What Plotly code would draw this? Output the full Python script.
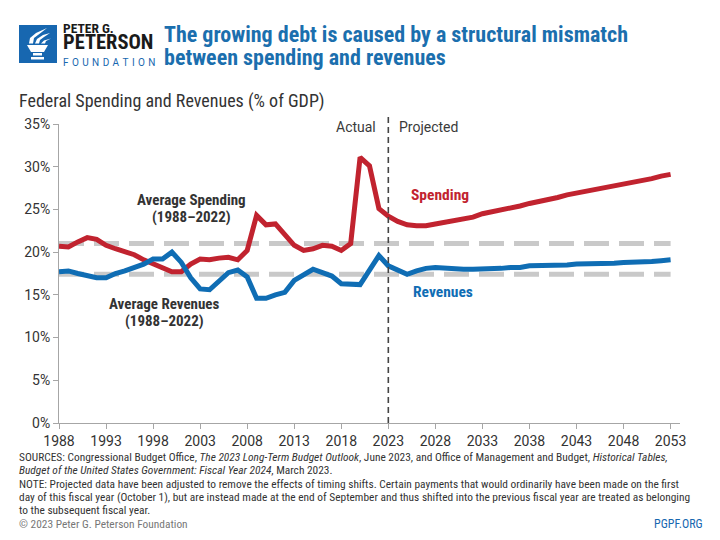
import plotly.graph_objects as go

# ---------------- data ----------------
years = list(range(1988, 2054))
spending = [20.7, 20.6, 21.2, 21.7, 21.5, 20.8, 20.4, 20.1, 19.7, 19.1,
            18.6, 18.1, 17.7, 17.7, 18.6, 19.2, 19.1, 19.3, 19.4, 19.1,
            20.2, 24.3, 23.2, 23.3, 22.0, 20.8, 20.2, 20.4, 20.8, 20.7,
            20.2, 21.0, 31.1, 30.1, 25.1,
            24.2, 23.6, 23.2, 23.1, 23.1, 23.3, 23.5, 23.7, 23.9, 24.1,
            24.5, 24.7, 24.9, 25.2, 25.4, 25.7, 25.9, 26.2, 26.4, 26.7,
            26.9, 27.1, 27.3, 27.5, 27.7, 28.0, 28.2, 28.4, 28.6, 28.9, 29.1]
revenues = [17.7, 17.8, 17.5, 17.3, 17.0, 17.0, 17.5, 17.8, 18.2, 18.6,
            19.2, 19.2, 20.0, 18.8, 17.0, 15.7, 15.6, 16.7, 17.6, 17.9,
            17.1, 14.6, 14.6, 15.0, 15.3, 16.7, 17.4, 18.0, 17.6, 17.2,
            16.3, 16.3, 16.2, 17.9, 19.6,
            18.4, 17.9, 17.4, 17.8, 18.1, 18.2, 18.1, 18.1, 18.0, 18.0,
            18.0, 18.1, 18.1, 18.2, 18.2, 18.4, 18.4, 18.4, 18.5, 18.5,
            18.6, 18.6, 18.6, 18.7, 18.7, 18.8, 18.8, 18.9, 18.9, 19.0, 19.1]
avg_years = [1988, 2053]
avg_spending = [21.0, 21.0]
avg_revenues = [17.4, 17.4]
projection_start = 2023
x_ticks = list(range(1988, 2054, 5))
y_ticks = [0, 5, 10, 15, 20, 25, 30, 35]
y_tick_labels = [f"{v}%" for v in y_ticks]

footer_lines = [
    "SOURCES: Congressional Budget Office, <i>The 2023 Long-Term Budget Outlook</i>, June 2023, and Office of Management and Budget, <i>Historical Tables,</i>",
    "<i>Budget of the United States Government: Fiscal Year 2024</i>, March 2023.",
    "NOTE: Projected data have been adjusted to remove the effects of timing shifts. Certain payments that would ordinarily have been made on the first",
    "day of this fiscal year (October 1), but are instead made at the end of September and thus shifted into the previous fiscal year are treated as belonging",
    "to the subsequent fiscal year.",
]

# ---------------- styles ----------------
W, H = 720, 540
L, R, T, B = 59, 40, 124, 117
PW, PH = W - L - R, H - T - B
RED = "#c1232f"
BLUE = "#0f6db4"
TITLE_BLUE = "#1b6fae"
DARK = "#333333"
COND = "Liberation Sans Narrow, Roboto Condensed, DejaVu Sans Condensed, Arial Narrow, sans-serif"
REG = "Roboto, Open Sans, sans-serif"


def px(x):
    return (x - L) / PW


def py(y):
    return (H - B - y) / PH


fig = go.Figure()
fig.add_trace(go.Scatter(x=avg_years, y=avg_spending, mode="lines",
                         line=dict(color="#c9c9c9", width=5, dash="25px,10px"),
                         hoverinfo="skip"))
fig.add_trace(go.Scatter(x=avg_years, y=avg_revenues, mode="lines",
                         line=dict(color="#c9c9c9", width=5, dash="25px,10px"),
                         hoverinfo="skip"))
fig.add_trace(go.Scatter(x=years, y=spending, mode="lines", name="Spending",
                         line=dict(color=RED, width=5)))
fig.add_trace(go.Scatter(x=years, y=revenues, mode="lines", name="Revenues",
                         line=dict(color=BLUE, width=5)))

shapes = []
# vertical dashed actual/projected divider
shapes.append(dict(type="line", xref="x", yref="paper", x0=projection_start, x1=projection_start,
                   y0=0, y1=py(113), line=dict(color="#444444", width=1.6, dash="6px,4px"),
                   layer="above"))
# logo square
shapes.append(dict(type="rect", xref="paper", yref="paper", x0=px(19), x1=px(57),
                   y0=py(63), y1=py(25), fillcolor="#1767b0", line=dict(width=0)))


def path(points, close=True):
    s = "M " + " L ".join(f"{px(a):.5f},{py(b):.5f}" for a, b in points)
    return s + (" Z" if close else "")


white = dict(fillcolor="white", line=dict(width=0), xref="paper", yref="paper", type="path")
shapes.append(dict(path=path([(27, 45), (48, 45), (44, 52), (31, 52)]), **white))
shapes.append(dict(path=path([(33, 53), (42, 53), (42, 55.5), (33, 55.5)]), **white))
shapes.append(dict(path=path([(31, 57), (44, 57), (44, 59.5), (31, 59.5)]), **white))
shapes.append(dict(path=path([(29, 43.5), (30, 38), (36, 33), (47, 28), (40, 33.5), (34, 38), (33, 43.5)]), **white))
shapes.append(dict(path=path([(35, 43.5), (37, 39), (43, 35), (50, 33), (44, 37), (40, 40), (39, 43.5)]), **white))
shapes.append(dict(path=path([(41, 43.5), (44, 40.5), (51, 38.5), (46, 41), (45, 43.5)]), **white))

ann = []


def text(x, y, s, size, color=DARK, family=COND, xanchor="left", yanchor="middle", align="left"):
    ann.append(dict(x=px(x), y=py(y), xref="paper", yref="paper", text=s, showarrow=False,
                    xanchor=xanchor, yanchor=yanchor, align=align,
                    font=dict(size=size, color=color, family=family)))


# logo text (one block so the stacked lines share one box)
logo = ("<b><span style='font-size:13.5px'>PETER G.</span></b><br>"
        "<b><span style='font-size:20.5px'>PETERSON</span></b><br>"
        "<span style='font-size:10px;color:#1767b0;font-family:Roboto'>"
        + "\u2004".join("FOUNDATION") + "</span>")
text(61, 43.5, logo, 12.6, color="#1a1a1a")
# title
text(162, 34, "<b>The growing debt is caused by a structural mismatch</b>", 22, color=TITLE_BLUE)
text(162, 58, "<b>between spending and revenues</b>", 22, color=TITLE_BLUE)
# subtitle
text(17, 101, "Federal Spending and Revenues (% of GDP)", 18, color=DARK)
# actual/projected
text(378, 127, "Actual", 14, color="#3a3a3a", family=REG, xanchor="right")
text(397, 127, "Projected", 14, color="#3a3a3a", family=REG)
# average labels
text(191, 200, "<b>Average Spending</b>", 15, xanchor="center")
text(191, 216.5, "<b>(1988\u20132022)</b>", 15, xanchor="center")
text(164, 304, "<b>Average Revenues</b>", 15, xanchor="center")
text(164, 320.5, "<b>(1988\u20132022)</b>", 15, xanchor="center")
# series labels
text(440, 195, "<b>Spending</b>", 15.5, color=RED, xanchor="center")
text(443, 292, "<b>Revenues</b>", 15.5, color=BLUE, xanchor="center")
# footer
for i, line in enumerate(footer_lines):
    text(17, 457 + i * 13.3, line, 11.4, color=DARK)
text(17, 523.5, "\u00a9 2023 Peter G. Peterson Foundation", 11.4, color="#777777")
text(705, 523.5, "PGPF.ORG", 12, color="#1767b0", xanchor="right")

fig.update_layout(
    width=W, height=H,
    margin=dict(l=L, r=R, t=T, b=B),
    paper_bgcolor="white", plot_bgcolor="white",
    showlegend=False,
    shapes=shapes, annotations=ann,
    xaxis=dict(range=[1988, 2054], tickvals=x_ticks, showline=True, linecolor="#a6a6a6",
               linewidth=1, ticks="outside", ticklen=5, tickcolor="#a6a6a6",
               showgrid=False, zeroline=False, tickfont=dict(family=REG, size=14, color=DARK)),
    yaxis=dict(range=[0, 35], tickvals=y_ticks, ticktext=y_tick_labels, showline=True,
               linecolor="#a6a6a6", linewidth=1, ticks="outside", ticklen=5, tickcolor="#a6a6a6",
               showgrid=False, zeroline=False, tickfont=dict(family=REG, size=14, color=DARK)),
)

fig.write_html("out.html", config={"displayModeBar": False},
               post_script="document.body.style.margin='0';")
